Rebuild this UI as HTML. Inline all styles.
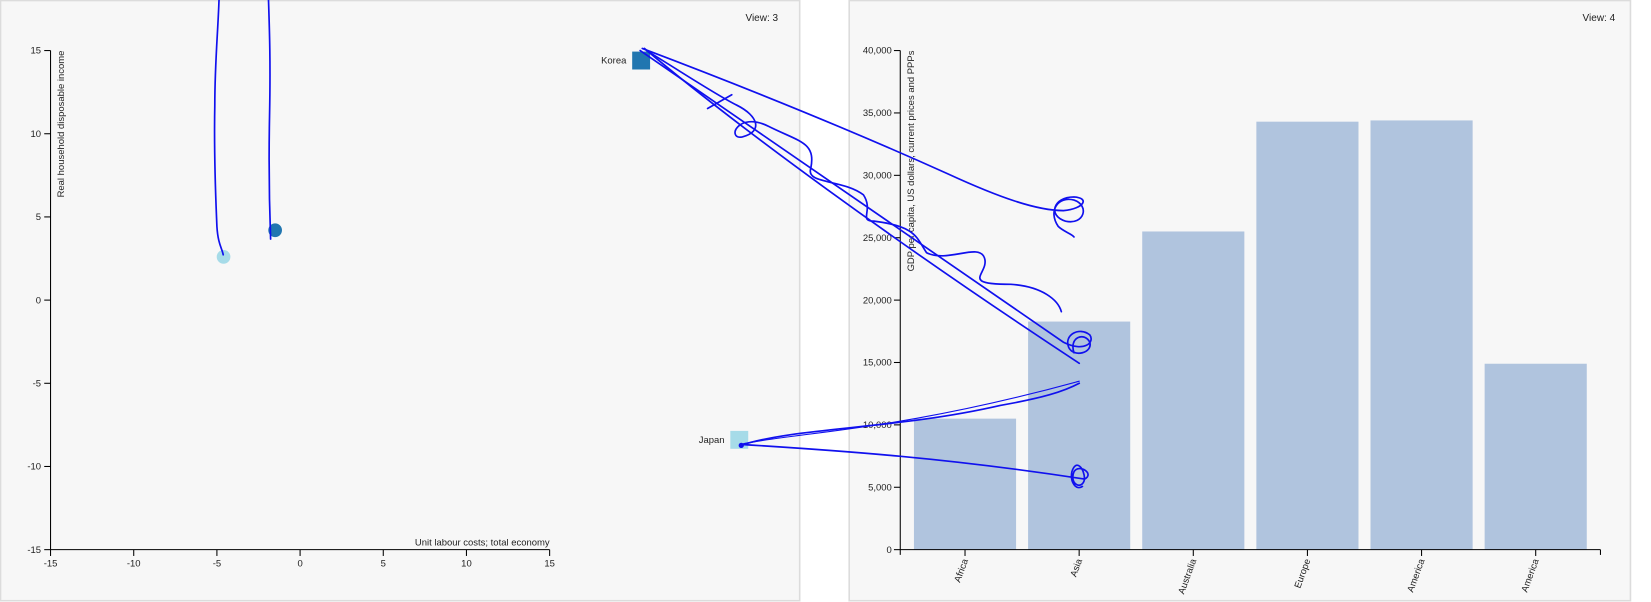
<!DOCTYPE html>
<html><head><meta charset="utf-8"><style>
html,body{margin:0;padding:0;background:#fff;}
svg{display:block;font-family:"Liberation Sans",Arial,sans-serif;}
</style></head><body>
<svg id="root" width="1651" height="602" viewBox="0 0 1568 571.7" xmlns="http://www.w3.org/2000/svg">
<rect x="0.5" y="0.5" width="759" height="570" fill="#f7f7f7" stroke="#dcdcdc" stroke-width="1.5"/>
<rect x="806.5" y="0.5" width="742" height="570" fill="#f7f7f7" stroke="#dcdcdc" stroke-width="1.5"/>
<text x="708" y="20" font-size="9.5" fill="#222">View: 3</text>
<text x="1503" y="20" font-size="9.5" fill="#222">View: 4</text>
<g id="scatter"></g>
<g id="bars"></g>
<g fill="none" stroke="#1010ee" stroke-width="1.6" stroke-linecap="round">
<path d="M208,0 C207,30 204,60 204,100 C203,150 205,190 206,215 C207,232 211,236 212,242"/>
<path d="M255,0 C256,30 257,60 256,110 C255,160 256,200 257,227"/>
<path d="M610,46 C700,80 800,120 900,165 C950,188 985,200 1010,200 C1030,198 1035,188 1020,187 C1000,187 995,205 1012,210 C1030,214 1035,195 1020,190 C1005,186 995,200 1005,215 C1010,220 1018,222 1020,225"/>
<path d="M612,46 C700,120 850,230 1025,345"/>
<path d="M614,48 C650,70 680,90 700,100 C720,110 725,125 705,130 C690,133 700,105 730,120 C760,135 775,135 770,160 C765,175 800,170 820,185 C830,200 815,210 830,210 C870,215 870,225 880,240 C900,250 930,230 935,245 C940,260 910,270 960,270 C990,272 1005,285 1008,296"/>
<path d="M608,48 C700,110 850,215 1010,325 C1030,335 1040,325 1035,318 C1025,310 1010,318 1015,330 C1020,340 1038,335 1035,325 C1030,315 1015,320 1020,335"/>
<path d="M672,103 L695,90"/>
<path d="M703,422 C760,410 850,410 1025,362" stroke-width="1"/>
<path d="M703,423 C760,405 850,408 950,385 C990,378 1010,372 1025,364"/>
<path d="M703,422 C800,428 900,435 1030,455 C1040,450 1025,440 1020,448 C1015,460 1028,466 1030,455 C1030,445 1022,435 1018,448 C1016,458 1022,466 1028,462"/>
<circle cx="704" cy="423" r="2.5" fill="#1010ee" stroke="none"/>
</g>
</svg>
<script>
const NS='http://www.w3.org/2000/svg';
// scatter data
const countries=['A','B','Korea','Japan'];
const unitLabour=[-4.6,-1.5,20.5,26.4];
const rhdi=[2.6,4.2,14.4,-8.4];
const pointShapes=['circle','circle','square','square'];
const pointColors=['#a6dbe8','#2176b0','#2176b0','#a6dbe8'];
const scatterTicks=[-15,-10,-5,0,5,10,15];
// bar data
const regions=['Africa','Asia','Australia','Europe','America','America'];
const gdp=[10500,18280,25500,34300,34400,14900];
const gdpTicks=[0,5000,10000,15000,20000,25000,30000,35000,40000];

function mk(tag,attrs,parent){const e=document.createElementNS(NS,tag);for(const k in attrs)e.setAttribute(k,attrs[k]);parent.appendChild(e);return e;}

const sc=document.getElementById('scatter');
const sx=v=>48+(v+15)/30*474;
const sy=v=>522-(v+15)/30*474;
let ax=mk('line',{x1:48,y1:48,x2:48,y2:522,stroke:'#000'},sc);


ax=mk('line',{x1:48,y1:522,x2:522,y2:522,stroke:'#000'},sc);


scatterTicks.forEach(t=>{
 let l=mk('line',{x1:42,y1:sy(t),x2:48,y2:sy(t),stroke:'#000'},sc);
 
 
 let tx=mk('text',{x:39,y:sy(t)+3,'text-anchor':'end','font-size':9,fill:'#222'},sc);tx.textContent=t;
 
 
 l=mk('line',{x1:sx(t),y1:522,x2:sx(t),y2:528,stroke:'#000'},sc);
 
 
 tx=mk('text',{x:sx(t),y:538,'text-anchor':'middle','font-size':9,fill:'#222'},sc);tx.textContent=t;
 
 
});
let t=mk('text',{x:522,y:518,'text-anchor':'end','font-size':9,fill:'#222'},sc);t.textContent='Unit labour costs; total economy';


t=mk('text',{transform:'translate(61,48) rotate(-90)','text-anchor':'end','font-size':9,fill:'#222'},sc);t.textContent='Real household disposable income';


countries.forEach((c,i)=>{
 const x=sx(unitLabour[i]),y=sy(rhdi[i]);let m;
 if(pointShapes[i]==='circle'){m=mk('circle',{cx:x,cy:y,r:6.5,fill:pointColors[i]},sc);}
 else{m=mk('rect',{x:x-8.5,y:y-8.5,width:17,height:17,fill:pointColors[i]},sc);
  const lb=mk('text',{x:x-14,y:y+3,'text-anchor':'end','font-size':9,fill:'#222'},sc);lb.textContent=c;
  
  }
 
 
});

const bc=document.getElementById('bars');
const x0=855,x1=1520,yTop=48,yBot=522;
const by=v=>yBot-v/40000*(yBot-yTop);
const step=108.4;
const bw=97;
const firstBar=868;
regions.forEach((r,i)=>{
 const left=firstBar+i*step;
 const b=mk('rect',{x:left,y:by(gdp[i]),width:bw,height:yBot-by(gdp[i]),fill:'#b0c4de'},bc);
 
 
 const cx=left+bw/2;
 const tk=mk('line',{x1:cx,y1:yBot,x2:cx,y2:yBot+6,stroke:'#000'},bc);
 
 
 const tx=mk('text',{transform:`translate(${cx+3},${yBot+10}) rotate(-70)`,'text-anchor':'end','font-size':9,fill:'#222'},bc);tx.textContent=r;
 
 
});
ax=mk('line',{x1:x0,y1:yTop,x2:x0,y2:yBot+5,stroke:'#000'},bc);


ax=mk('line',{x1:x0,y1:yBot,x2:x1,y2:yBot,stroke:'#000'},bc);


mk('line',{x1:x1,y1:yBot,x2:x1,y2:yBot+5,stroke:'#000'},bc);
gdpTicks.forEach(v=>{
 const l=mk('line',{x1:x0-6,y1:by(v),x2:x0,y2:by(v),stroke:'#000'},bc);
 
 
 const tx=mk('text',{x:x0-8,y:by(v)+3,'text-anchor':'end','font-size':9,fill:'#222'},bc);tx.textContent=v.toLocaleString('en-US');
 
 
});
t=mk('text',{transform:'translate(868,48) rotate(-90)','text-anchor':'end','font-size':9,fill:'#222'},bc);t.textContent='GDP per capita, US dollars, current prices and PPPs';


</script>
</body></html>
